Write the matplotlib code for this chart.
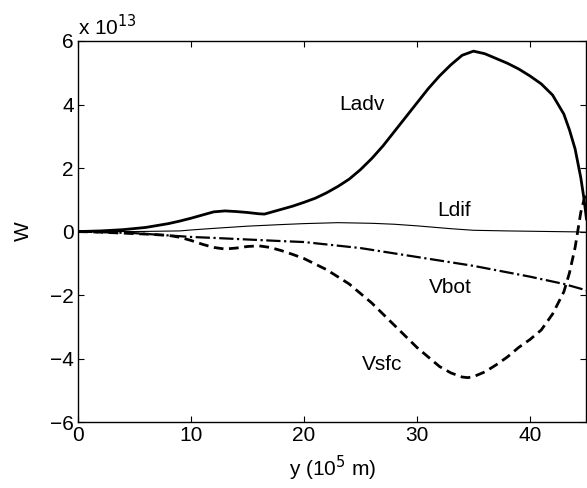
import matplotlib
matplotlib.use('Agg')
import matplotlib.pyplot as plt

plt.rcParams['font.family'] = ['Liberation Sans', 'DejaVu Sans']
plt.rcParams['font.size'] = 15

# datos (unidades de 1e13 W)
x_ladv = [0, 2, 4, 6, 8, 9, 10, 11, 12, 13, 14, 15, 16, 16.5, 17, 18, 19, 20, 21, 22, 23, 24, 25,
          26, 27, 28, 29, 30, 31, 32, 33, 34, 35, 36, 37, 38, 39, 40, 41, 42, 43, 43.5, 44, 44.5,
          44.8, 45]
ladv = [0, 0.02, 0.06, 0.13, 0.25, 0.33, 0.42, 0.52, 0.62, 0.65, 0.63, 0.6, 0.56, 0.55, 0.6, 0.7,
        0.8, 0.92, 1.05, 1.22, 1.42, 1.65, 1.95, 2.3, 2.7, 3.15, 3.6, 4.05, 4.5, 4.9, 5.25, 5.55,
        5.68, 5.6, 5.45, 5.3, 5.12, 4.9, 4.65, 4.3, 3.7, 3.2, 2.6, 1.7, 1.0, 0.4]

x_ldif = [0, 5, 9, 10, 12, 15, 18, 20, 23, 26, 28, 30, 33, 35, 38, 40, 42, 44, 45]
ldif = [0, 0, 0.02, 0.05, 0.1, 0.17, 0.22, 0.25, 0.28, 0.26, 0.23, 0.18, 0.09, 0.04, 0.02, 0.01,
        0.0, -0.01, -0.02]

x_vbot = [0, 5, 10, 12, 15, 18, 20, 25, 30, 35, 40, 43, 45]
vbot = [0, -0.05, -0.17, -0.2, -0.25, -0.3, -0.33, -0.52, -0.8, -1.08, -1.42, -1.65, -1.85]

x_vsfc = [0, 2, 4, 6, 8, 9, 10, 11, 12, 13, 14, 15, 16, 17, 18, 19, 20, 22, 24, 26, 28, 30, 31,
          32, 33, 34, 34.5, 35, 36, 37, 38, 39, 40, 41, 42, 43, 43.5, 44, 44.5, 45]
vsfc = [0, -0.02, -0.05, -0.08, -0.12, -0.18, -0.28, -0.4, -0.5, -0.55, -0.52, -0.47, -0.45, -0.5,
        -0.6, -0.72, -0.85, -1.2, -1.65, -2.25, -2.95, -3.65, -3.95, -4.25, -4.45, -4.58, -4.6,
        -4.57, -4.42, -4.2, -3.95, -3.65, -3.4, -3.1, -2.6, -1.9, -1.3, -0.5, 0.6, 1.3]

fig = plt.figure(figsize=(5.87, 4.88), dpi=100)
ax = fig.add_axes([0.133, 0.135, 0.866, 0.781])

ax.plot(x_ladv, ladv, 'k-', lw=2.0)
ax.plot(x_ldif, ldif, 'k-', lw=0.8)
ax.plot(x_vbot, vbot, 'k-.', lw=1.6)
ax.plot(x_vsfc, vsfc, 'k--', lw=2.0, dashes=(3.5, 2))

# etiquetas de cada curva
ax.text(23.1, 4.0, 'Ladv', va='center')
ax.text(31.8, 0.65, 'Ldif', va='center')
ax.text(31.1, -1.75, 'Vbot', va='center')
ax.text(25.1, -4.2, 'Vsfc', va='center')

ax.set_xlim(0, 45)
ax.set_ylim(-6, 6)
ax.set_xticks([0, 10, 20, 30, 40])
ax.set_yticks([-6, -4, -2, 0, 2, 4, 6])
ax.tick_params(direction='in', top=True, right=True, length=4, labelsize=15, pad=3)
for s in ax.spines.values():
    s.set_linewidth(1.0)

ax.text(0.0, 1.005, r'x 10$^{13}$', transform=ax.transAxes, va='bottom', ha='left')
ax.set_xlabel(r'y (10$^5$ m)', labelpad=6)
ax.set_ylabel('W', labelpad=12)

fig.savefig('out.png', dpi=100)
